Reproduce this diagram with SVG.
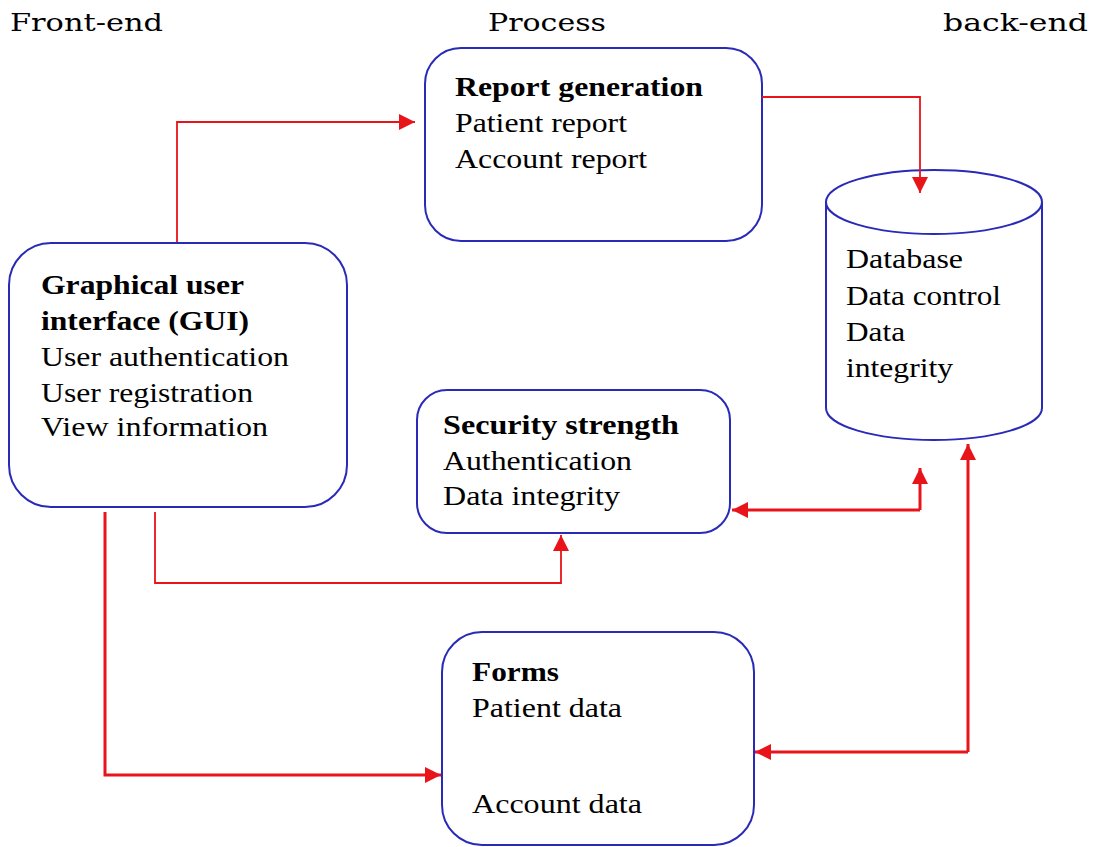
<svg xmlns="http://www.w3.org/2000/svg" width="1093" height="847" viewBox="0 0 1093 847">
<style>
.hdr{font-family:"DejaVu Serif","Liberation Serif",serif;font-size:25px;fill:#000}
.t{font-family:"Liberation Serif","Times New Roman",Times,serif;font-size:27px;fill:#000}
.b{font-weight:bold}
.box{fill:#fff;stroke:#2a2ab8;stroke-width:2}
.c{fill:none;stroke:#e8141a;stroke-linejoin:miter}
.thin{stroke-width:1.8}
.thick{stroke-width:3}
</style>
<defs>
<marker id="ah" markerUnits="userSpaceOnUse" markerWidth="17" markerHeight="16" refX="16" refY="8" orient="auto">
<path d="M0,0 L16,8 L0,16 Z" fill="#e8141a"/>
</marker>
</defs>
<rect width="1093" height="847" fill="#fff"/>
<g id="headers">
<text class="hdr" x="10" y="31" textLength="153" lengthAdjust="spacingAndGlyphs">Front-end</text>
<text class="hdr" x="488" y="31" textLength="118" lengthAdjust="spacingAndGlyphs">Process</text>
<text class="hdr" x="943" y="31" textLength="145" lengthAdjust="spacingAndGlyphs">back-end</text>
</g>
<g id="gui">
<rect class="box" x="9" y="243" width="338" height="264" rx="42" ry="42"/>
<text class="t b" x="41" y="294" textLength="203" lengthAdjust="spacingAndGlyphs">Graphical user</text>
<text class="t b" x="41" y="330" textLength="208" lengthAdjust="spacingAndGlyphs">interface (GUI)</text>
<text class="t" x="41" y="366" textLength="248" lengthAdjust="spacingAndGlyphs">User authentication</text>
<text class="t" x="41" y="402" textLength="212" lengthAdjust="spacingAndGlyphs">User registration</text>
<text class="t" x="41" y="436" textLength="227" lengthAdjust="spacingAndGlyphs">View information</text>
</g>
<g id="report">
<rect class="box" x="425" y="48" width="337" height="193" rx="36" ry="36"/>
<text class="t b" x="455" y="96" textLength="248" lengthAdjust="spacingAndGlyphs">Report generation</text>
<text class="t" x="455" y="132" textLength="172" lengthAdjust="spacingAndGlyphs">Patient report</text>
<text class="t" x="455" y="168" textLength="192" lengthAdjust="spacingAndGlyphs">Account report</text>
</g>
<g id="database">
<path class="box" d="M826,202 V408 A108,32 0 0 0 1042,408 V202"/>
<ellipse class="box" cx="934" cy="202" rx="108" ry="32"/>
<text class="t" x="846" y="268" textLength="117" lengthAdjust="spacingAndGlyphs">Database</text>
<text class="t" x="846" y="305" textLength="155" lengthAdjust="spacingAndGlyphs">Data control</text>
<text class="t" x="846" y="341" textLength="59" lengthAdjust="spacingAndGlyphs">Data</text>
<text class="t" x="846" y="377" textLength="107" lengthAdjust="spacingAndGlyphs">integrity</text>
</g>
<g id="security">
<rect class="box" x="417" y="390" width="313" height="143" rx="30" ry="30"/>
<text class="t b" x="443" y="434" textLength="236" lengthAdjust="spacingAndGlyphs">Security strength</text>
<text class="t" x="443" y="470" textLength="189" lengthAdjust="spacingAndGlyphs">Authentication</text>
<text class="t" x="443" y="505" textLength="177" lengthAdjust="spacingAndGlyphs">Data integrity</text>
</g>
<g id="forms">
<rect class="box" x="442" y="632" width="312" height="213" rx="40" ry="40"/>
<text class="t b" x="472" y="681" textLength="87" lengthAdjust="spacingAndGlyphs">Forms</text>
<text class="t" x="472" y="717" textLength="150" lengthAdjust="spacingAndGlyphs">Patient data</text>
<text class="t" x="472" y="813" textLength="170" lengthAdjust="spacingAndGlyphs">Account data</text>
</g>
<g id="connectors">
<path class="c thin" d="M177,242 V122 H415" marker-end="url(#ah)"/>
<path class="c thin" d="M762,97 H920 V193" marker-end="url(#ah)"/>
<path class="c thin" d="M155,512 V583 H561 V535" marker-end="url(#ah)"/>
<path class="c thick" d="M105,512 V775 H441" marker-end="url(#ah)"/>
<path class="c thick" d="M920,510 V468" marker-end="url(#ah)"/>
<path class="c thick" d="M920,510 H732" marker-end="url(#ah)"/>
<path class="c thick" d="M968,752 V444" marker-end="url(#ah)"/>
<path class="c thick" d="M968,752 H755" marker-end="url(#ah)"/>
</g>
</svg>
